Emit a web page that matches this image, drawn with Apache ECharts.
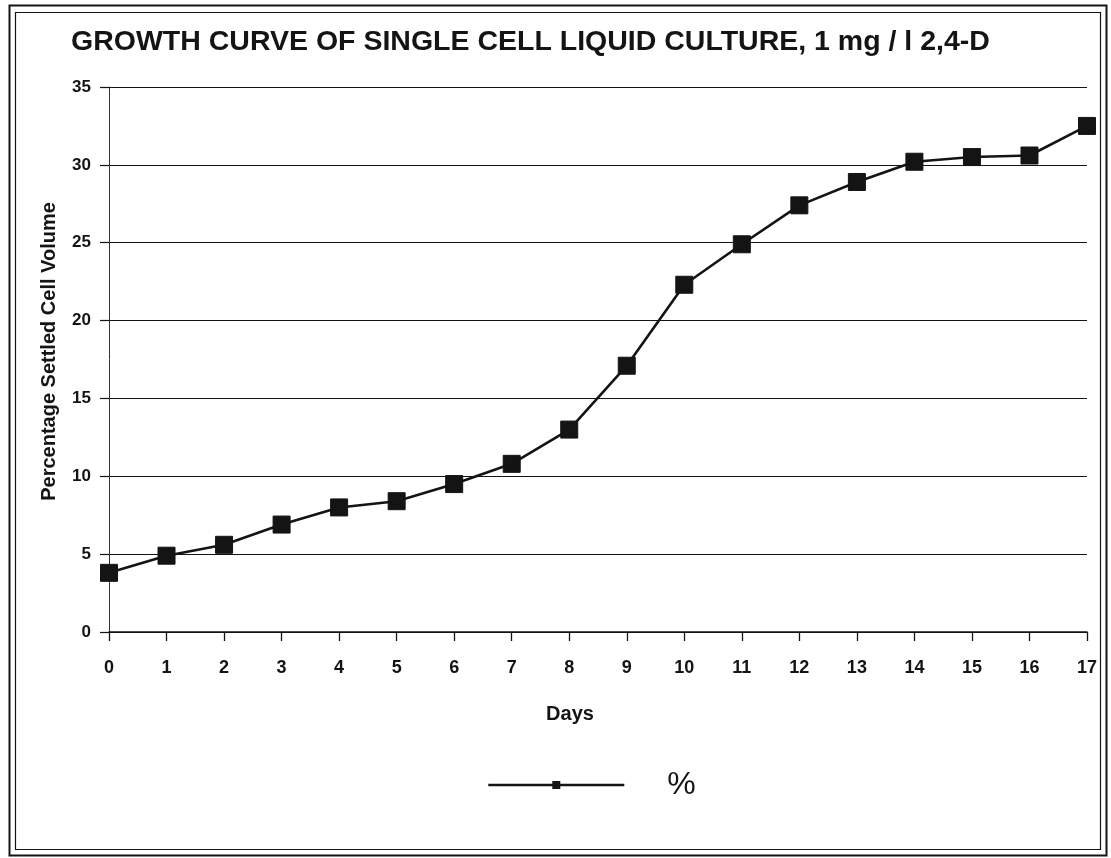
<!DOCTYPE html>
<html>
<head>
<meta charset="utf-8">
<script src="https://cdn.jsdelivr.net/npm/echarts@6/dist/echarts.min.js"></script>
<style>
  html, body { margin: 0; padding: 0; background: #fff; }
  #chart { width: 1111px; height: 858px; }
</style>
</head>
<body>
<div id="chart"></div>
<script>
// Growth of a single cell liquid culture: settled cell volume per day
const days = [0, 1, 2, 3, 4, 5, 6, 7, 8, 9, 10, 11, 12, 13, 14, 15, 16, 17];
const settledVolume = [3.8, 4.9, 5.6, 6.9, 8.0, 8.4, 9.5, 10.8, 13.0, 17.1, 22.3, 24.9, 27.4, 28.9, 30.2, 30.5, 30.6, 32.5];
const seriesName = '%';
const titleText = 'GROWTH CURVE OF SINGLE CELL LIQUID CULTURE, 1 mg / l 2,4-D';
const xAxisName = 'Days';
const yAxisName = 'Percentage Settled Cell Volume';

const ink = '#141414';
const boldFont = 'Liberation Sans, Arial, sans-serif';

const chart = echarts.init(document.getElementById('chart'), null, { renderer: 'canvas' });

chart.setOption({
  backgroundColor: '#ffffff',
  animation: false,
  title: {
    text: titleText,
    left: 66,
    top: 23,
    textStyle: {
      fontFamily: boldFont,
      fontWeight: 'bold',
      fontSize: 28.5,
      color: ink
    }
  },
  grid: {
    left: 109,
    right: 24,
    top: 87,
    bottom: 226,
    containLabel: false
  },
  legend: {
    show: true,
    left: 482,
    top: 764,
    itemWidth: 136,
    itemHeight: 10,
    lineStyle: { color: ink, width: 2.6 },
    textStyle: {
      fontFamily: 'Liberation Sans, Arial, sans-serif',
      fontSize: 32,
      color: ink,
      padding: [0, 0, 0, 38]
    },
    data: [seriesName]
  },
  xAxis: {
    type: 'value',
    min: 0,
    max: 17,
    interval: 1,
    name: xAxisName,
    nameLocation: 'middle',
    nameGap: 72,
    nameTextStyle: { fontFamily: boldFont, fontWeight: 'bold', fontSize: 20, color: ink, padding: [0, 56, 0, 0] },
    axisLine: { show: true, lineStyle: { color: ink, width: 1.5 } },
    axisTick: { show: true, length: 9, inside: false, lineStyle: { color: ink, width: 1.3 } },
    axisLabel: { margin: 27, fontFamily: boldFont, fontWeight: 'bold', fontSize: 18, color: ink },
    splitLine: { show: false }
  },
  yAxis: {
    type: 'value',
    min: 0,
    max: 35,
    interval: 5,
    name: yAxisName,
    nameLocation: 'middle',
    nameGap: 50,
    nameTextStyle: { fontFamily: boldFont, fontWeight: 'bold', fontSize: 20, color: ink, padding: [0, 0, 0, 16] },
    axisLine: { show: true, lineStyle: { color: '#333', width: 1 } },
    axisTick: { show: true, length: 9, lineStyle: { color: ink, width: 1.2 } },
    axisLabel: { margin: 18, fontFamily: boldFont, fontWeight: 'bold', fontSize: 17, color: ink },
    splitLine: { show: true, lineStyle: { color: ink, width: 1.2 } }
  },
  series: [{
    name: seriesName,
    type: 'line',
    data: days.map((d, i) => [d, settledVolume[i]]),
    symbol: 'rect',
    symbolSize: 17,
    showSymbol: true,
    lineStyle: { color: ink, width: 2.6 },
    itemStyle: { color: ink, borderColor: ink },
    z: 5
  }],
  graphic: [
    { type: 'rect', shape: { x: 9.5, y: 5.5, width: 1097, height: 850 }, style: { fill: 'none', stroke: ink, lineWidth: 2 }, silent: true },
    { type: 'rect', shape: { x: 15.5, y: 12.5, width: 1085, height: 837 }, style: { fill: 'none', stroke: ink, lineWidth: 1.2 }, silent: true }
  ]
});
</script>
</body>
</html>
